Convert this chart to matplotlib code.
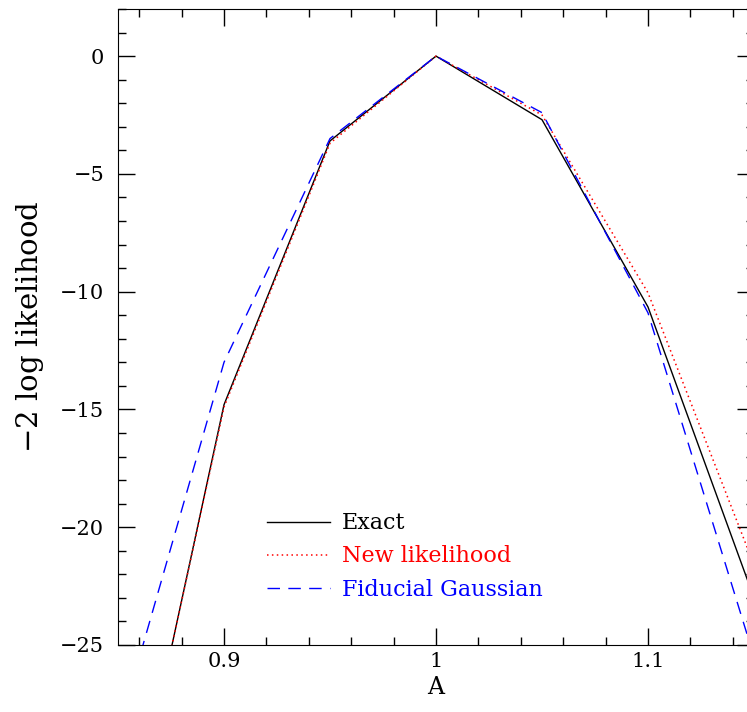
import numpy as np
import matplotlib
matplotlib.use('Agg')
import matplotlib.pyplot as plt
from matplotlib.ticker import MultipleLocator

plt.rcParams['font.family'] = 'DejaVu Serif'

# values
A = [0.85, 0.9, 0.95, 1.0, 1.05, 1.1, 1.15]
exact = [-35.6, -14.8, -3.6, 0.0, -2.7, -10.65, -23.0]
new_like = [-35.5, -14.9, -3.7, 0.0, -2.5, -10.05, -21.6]
fid_gauss = [-28.7, -13.0, -3.5, 0.0, -2.4, -10.9, -25.5]

fig = plt.figure(figsize=(7.47, 7.12), dpi=100)
ax = fig.add_axes([118/747, 67/712, 636/747, 636/712])

ax.plot(A, exact, color='black', lw=1.0, label='Exact')
ax.plot(A, new_like, color='red', lw=1.1, linestyle=(0, (1, 2.2)), label='New likelihood')
ax.plot(A, fid_gauss, color='blue', lw=1.0, linestyle=(0, (9, 6)), label='Fiducial Gaussian')

ax.set_xlim(0.85, 1.15)
ax.set_ylim(-25, 2)
ax.xaxis.set_major_locator(MultipleLocator(0.1))
ax.xaxis.set_minor_locator(MultipleLocator(0.02))
ax.yaxis.set_major_locator(MultipleLocator(5))
ax.yaxis.set_minor_locator(MultipleLocator(1))
ax.set_xticks([0.9, 1.0, 1.1])
ax.set_xticklabels(['0.9', '1', '1.1'])
ax.tick_params(which='both', direction='in', top=True, right=True, labelsize=15)
ax.tick_params(axis='x', which='major', pad=5)
ax.tick_params(axis='y', which='major', pad=10)
ax.tick_params(which='major', length=12, width=1)
ax.tick_params(which='minor', length=6, width=1)
ax.set_xlabel('A', fontsize=17, labelpad=4)
ax.set_ylabel('$-$2 log likelihood', fontsize=21, labelpad=10)

leg = ax.legend(loc='upper left', bbox_to_anchor=(0.203, 0.24), frameon=False,
                fontsize=16, handlelength=2.85, handletextpad=0.5, labelspacing=0.5,
                labelcolor='linecolor')

fig.savefig('out.png', dpi=100)
